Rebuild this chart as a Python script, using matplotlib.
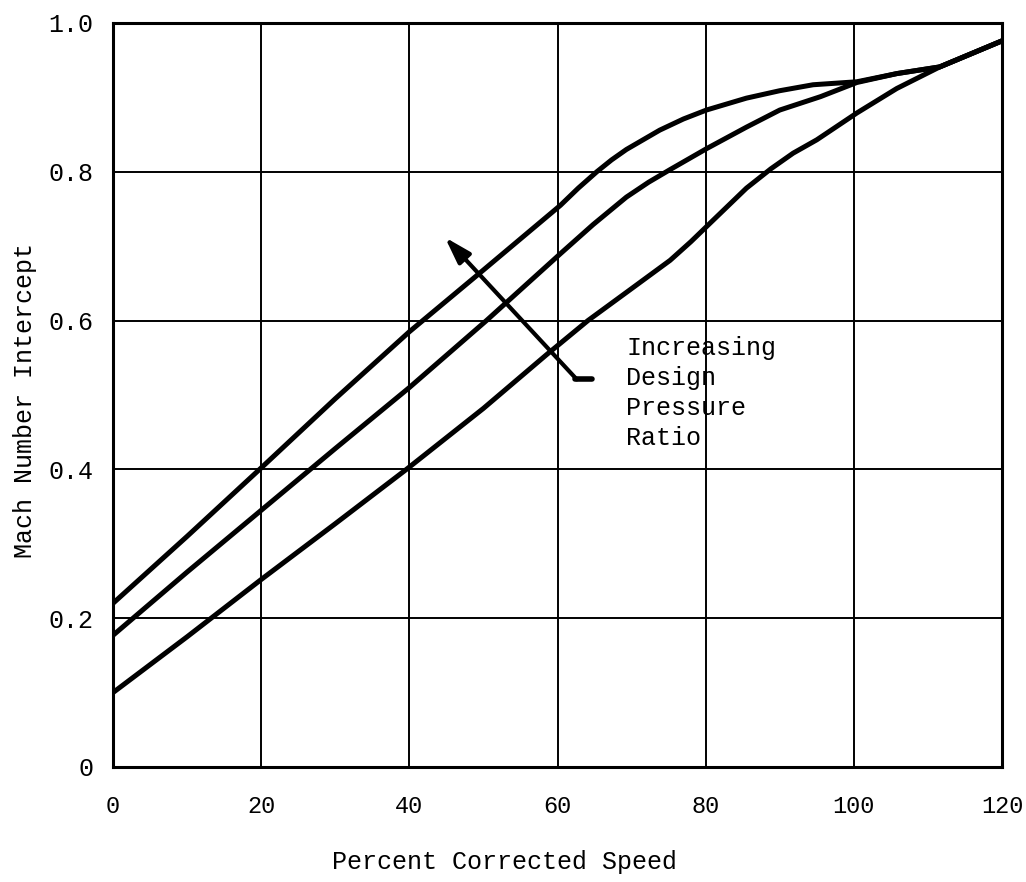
import numpy as np
import matplotlib.pyplot as plt

# curves (percent corrected speed, Mach number intercept)
top_x = [0, 10, 20, 30, 40, 50, 60.4, 62.8, 65.3, 67.3, 69.3, 73.8, 77.0, 80.1, 85.5, 90.0, 94.5, 100.4, 105.8, 111.6, 120]
top_y = [0.22, 0.31, 0.402, 0.495, 0.585, 0.668, 0.755, 0.778, 0.800, 0.816, 0.830, 0.856, 0.871, 0.883, 0.899, 0.909, 0.917, 0.921, 0.932, 0.941, 0.976]

mid_x = [0, 10, 20, 30, 40, 50.4, 60.4, 64.8, 69.3, 72.3, 75.2, 80.1, 85.5, 90.0, 95.5, 100.4, 105.8, 111.6, 120]
mid_y = [0.177, 0.262, 0.345, 0.428, 0.51, 0.60, 0.69, 0.729, 0.766, 0.786, 0.803, 0.831, 0.860, 0.883, 0.901, 0.920, 0.932, 0.941, 0.976]

bot_x = [0, 10, 20, 30, 39.6, 50, 58.5, 64.1, 70, 75.2, 78.0, 80.6, 85.5, 88.8, 91.8, 95.0, 100.4, 105.8, 111.6, 120]
bot_y = [0.10, 0.175, 0.252, 0.327, 0.40, 0.482, 0.554, 0.60, 0.643, 0.681, 0.706, 0.731, 0.778, 0.804, 0.825, 0.843, 0.879, 0.912, 0.941, 0.976]

xticks = [0, 20, 40, 60, 80, 100, 120]
yticks = [0, 0.2, 0.4, 0.6, 0.8, 1.0]
ytick_labels = ["0", "0.2", "0.4", "0.6", "0.8", "1.0"]

plt.rcParams['font.family'] = ['Liberation Mono', 'DejaVu Sans Mono']

fig = plt.figure(figsize=(10.26, 8.82), dpi=100)
ax = fig.add_axes([113 / 1026, 1 - 767 / 882, 889 / 1026, 744 / 882])

for v in xticks[1:-1]:
    ax.axvline(v, color='black', lw=1.4, zorder=1)
for v in yticks[1:-1]:
    ax.axhline(v, color='black', lw=1.4, zorder=1)

for xs, ys in [(top_x, top_y), (mid_x, mid_y), (bot_x, bot_y)]:
    ax.plot(xs, ys, color='black', lw=3.6, solid_capstyle='butt',
            solid_joinstyle='round', zorder=3)

# bent arrow
ax.annotate('', xy=(44.8, 0.712), xytext=(62.6, 0.521),
            arrowprops=dict(arrowstyle='-|>,head_length=1.6,head_width=0.5',
                            color='black', lw=3, shrinkA=0, shrinkB=0))
ax.plot([62.4, 64.6], [0.521, 0.521], color='black', lw=4, solid_capstyle='round')

ax.text(69.3, 0.579, "Increasing\nDesign\nPressure\nRatio", fontsize=18,
        ha='left', va='top', linespacing=1.32)

ax.set_xlim(0, 120)
ax.set_ylim(0, 1.0)
ax.set_xticks(xticks)
ax.set_yticks(yticks)
ax.set_yticklabels(ytick_labels)
ax.tick_params(length=0)
ax.tick_params(axis='x', pad=20, labelsize=17)
ax.tick_params(axis='y', pad=14, labelsize=18)
for s in ax.spines.values():
    s.set_linewidth(2.2)

ax.set_xlabel("Percent Corrected Speed", fontsize=18)
ax.xaxis.set_label_coords(0.44, -0.112)
ax.set_ylabel("Mach Number Intercept", fontsize=18)
ax.yaxis.set_label_coords(-0.086, 0.492)

fig.savefig("out.png", dpi=100)
